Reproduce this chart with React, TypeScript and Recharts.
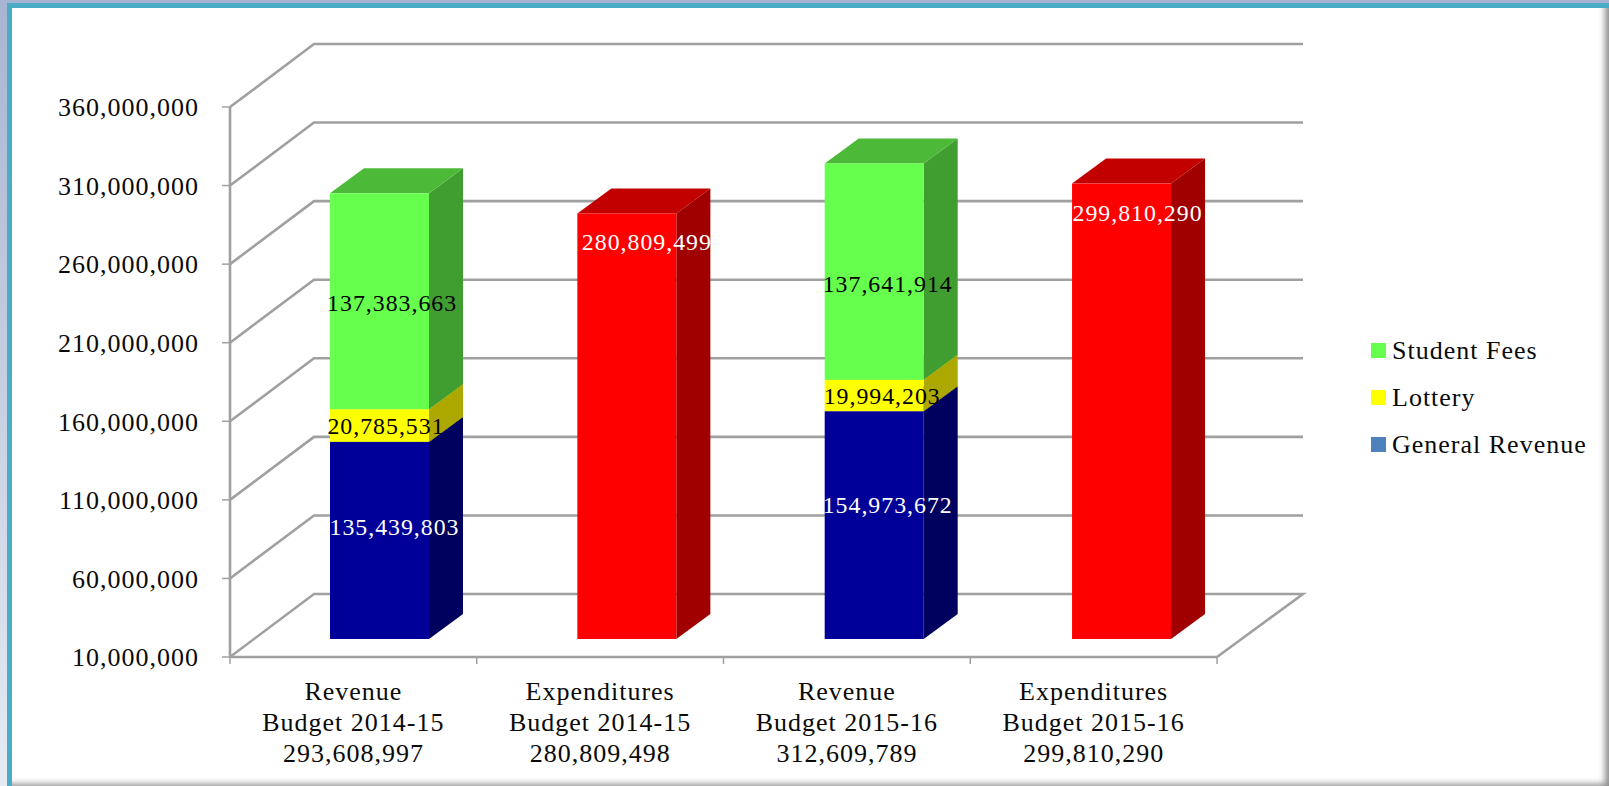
import React from "react";
import { BarChart, Bar, XAxis, YAxis, CartesianGrid, Legend, LabelList } from "recharts";

const categories = [
  "Revenue\nBudget 2014-15\n293,608,997",
  "Expenditures\nBudget 2014-15\n280,809,498",
  "Revenue\nBudget 2015-16\n312,609,789",
  "Expenditures\nBudget 2015-16\n299,810,290",
];
const generalRevenue = [135439803, 280809499, 154973672, 299810290];
const lottery = [20785531, 0, 19994203, 0];
const studentFees = [137383663, 0, 137641914, 0];
const yTicks = [10000000, 60000000, 110000000, 160000000, 210000000, 260000000, 310000000, 360000000];
const legendOrder = ["Student Fees", "Lottery", "General Revenue"];

const rows = categories.map((category, i) => ({
  category,
  generalRevenue: generalRevenue[i],
  lottery: lottery[i],
  studentFees: studentFees[i],
}));

const W = 1609;
const H = 786;
const LEFT = 230;
const TOP = 107;
const RIGHT = 1217;
const BOTTOM = 657;
const WALL_DX = 84;
const WALL_DY = 63;
const BAR_DX = 26;
const BAR_DRIFT = 0.6;
const BAR_DY = 18;
const BOX_DX = 34;
const BOX_DY = 25;
const GRID = "#a0a0a0";
const FONT = "'Liberation Serif', serif";

type Tone = { front: string; side: string; top: string; text: string };
const BLUE: Tone = { front: "#000099", side: "#00005f", top: "#00007a", text: "#ffffff" };
const RED: Tone = { front: "#ff0000", side: "#a00000", top: "#c20000", text: "#ffffff" };
const YELLOW: Tone = { front: "#ffff00", side: "#aca800", top: "#cccc00", text: "#000000" };
const GREEN: Tone = { front: "#66ff4d", side: "#3f9e2f", top: "#4cba38", text: "#000000" };
const generalTone = (i: number) => (i % 2 === 1 ? RED : BLUE);

const boxShape = (tone: (i: number) => Tone) => (props: any) => {
  const { x, y, width, height, index } = props;
  if (!height || height <= 0) return <g />;
  const t = tone(index);
  const fx = x + BAR_DX + index * BAR_DRIFT;
  const fy = y - BAR_DY;
  const bottom = Math.min(y + height, BOTTOM) - BAR_DY;
  const r = fx + width;
  return (
    <g>
      <polygon points={`${r},${fy} ${r + BOX_DX},${fy - BOX_DY} ${r + BOX_DX},${bottom - BOX_DY} ${r},${bottom}`} fill={t.side} />
      <polygon points={`${fx},${fy} ${r},${fy} ${r + BOX_DX},${fy - BOX_DY} ${fx + BOX_DX},${fy - BOX_DY}`} fill={t.top} />
      <rect x={fx} y={fy} width={width} height={bottom - fy} fill={t.front} />
    </g>
  );
};

const boxLabel = (tone: (i: number) => Tone, nudge: number[][]) => (props: any) => {
  const { x, y, width, height, value, index } = props;
  if (!value) return null;
  const bottom = Math.min(y + height, BOTTOM) - BAR_DY;
  const fy = y - BAR_DY;
  const [nx, ny] = nudge[index];
  return (
    <text
      x={x + BAR_DX + index * BAR_DRIFT + width / 2 + nx}
      y={(fy + bottom) / 2 + ny}
      textAnchor="middle"
      dominantBaseline="central"
      fontFamily={FONT}
      fontSize={23.8}
      letterSpacing={1}
      fill={tone(index).text}
    >
      {Number(value).toLocaleString("en-US")}
    </text>
  );
};

const generalNudge = [[15, -13], [20, -184], [13.5, -20], [16, -198]];
const lotteryNudge = [[6.5, 0], [0, 0], [8, 1], [0, 0]];
const feesNudge = [[12.6, 2], [0, 0], [13.5, 12.5], [0, 0]];

const gridLine = (props: any) => {
  const { x1, x2, y1 } = props;
  const backY = y1 - WALL_DY;
  const isFloor = Math.abs(y1 - BOTTOM) < 1;
  const pts = [`${x1},${y1}`, `${x1 + WALL_DX},${backY}`, `${x2 + 86},${backY}`];
  if (isFloor) pts.push(`${x2},${y1}`);
  return <polyline key={`g${y1}`} points={pts.join(" ")} fill="none" stroke={GRID} strokeWidth={2.6} />;
};

const categoryTick = (props: any) => {
  const { x, payload, index } = props;
  const band = (RIGHT - LEFT) / categories.length;
  const lines = String(payload.value).split("\n");
  return (
    <g>
      <line x1={x - band / 2} x2={x - band / 2} y1={BOTTOM} y2={BOTTOM + 7} stroke={GRID} strokeWidth={1.5} />
      {index === categories.length - 1 && (
        <line x1={x + band / 2} x2={x + band / 2} y1={BOTTOM} y2={BOTTOM + 7} stroke={GRID} strokeWidth={1.5} />
      )}
      {lines.map((line, i) => (
        <text key={i} x={x} y={700 + i * 31} textAnchor="middle" fontFamily={FONT} fontSize={26} letterSpacing={1} fill="#0a0a0a">
          {line}
        </text>
      ))}
    </g>
  );
};

const legendContent = (props: any) => {
  const items = [...(props.payload || [])].sort((a: any, b: any) => legendOrder.indexOf(a.value) - legendOrder.indexOf(b.value));
  return (
    <div style={{ fontFamily: FONT, fontSize: 26, letterSpacing: 1, color: "#0a0a0a" }}>
      {items.map((item: any) => (
        <div key={item.value} style={{ display: "flex", alignItems: "center", height: 47 }}>
          <span style={{ display: "inline-block", width: 15, height: 15, background: item.color, marginRight: 6 }} />
          <span>{item.value}</span>
        </div>
      ))}
    </div>
  );
};

export default function App() {
  return (
    <div style={{ position: "fixed", left: 0, top: 0, width: W, height: H, overflow: "hidden", background: "linear-gradient(180deg,#a8b5d2 0%,#e6ebf3 100%)" }}>
      <div style={{ position: "absolute", left: 7, top: 3, width: W - 7, height: H - 3, background: "#4bacc6" }} />
      <div style={{ position: "absolute", left: 12, top: 8, width: W - 12, height: H - 8, background: "#ffffff", boxShadow: "inset -8px -6px 6px -4px #8f8f8f" }} />
      <div style={{ position: "absolute", left: 0, top: 0 }}>
        <BarChart width={W} height={H} data={rows} margin={{ top: TOP, right: W - RIGHT, bottom: 0, left: 0 }} barSize={99}>
          <CartesianGrid vertical={false} horizontal={gridLine} />
          <XAxis
            dataKey="category"
            height={H - BOTTOM}
            interval={0}
            tick={categoryTick}
            tickLine={false}
            axisLine={{ stroke: GRID, strokeWidth: 2.6 }}
          />
          <YAxis
            type="number"
            domain={[10000000, 360000000]}
            allowDataOverflow
            ticks={yTicks}
            interval={0}
            width={LEFT}
            tickSize={8}
            tickMargin={23}
            tickFormatter={(v: number) => v.toLocaleString("en-US")}
            tick={{ fontFamily: FONT, fontSize: 26, letterSpacing: 1, fill: "#0a0a0a" }}
            tickLine={{ stroke: GRID, strokeWidth: 1.5 }}
            axisLine={{ stroke: GRID, strokeWidth: 2.6 }}
          />
          <Legend
            layout="vertical"
            align="center"
            verticalAlign="middle"
            content={legendContent}
            wrapperStyle={{ position: "absolute", left: 1371, top: 327, width: 230 }}
          />
          <Bar dataKey="generalRevenue" name="General Revenue" stackId="a" fill="#4f81bd" isAnimationActive={false} shape={boxShape(generalTone)}>
            <LabelList dataKey="generalRevenue" content={boxLabel(generalTone, generalNudge)} />
          </Bar>
          <Bar dataKey="lottery" name="Lottery" stackId="a" fill="#ffff00" isAnimationActive={false} shape={boxShape(() => YELLOW)}>
            <LabelList dataKey="lottery" content={boxLabel(() => YELLOW, lotteryNudge)} />
          </Bar>
          <Bar dataKey="studentFees" name="Student Fees" stackId="a" fill="#66ff4d" isAnimationActive={false} shape={boxShape(() => GREEN)}>
            <LabelList dataKey="studentFees" content={boxLabel(() => GREEN, feesNudge)} />
          </Bar>
        </BarChart>
      </div>
    </div>
  );
}
